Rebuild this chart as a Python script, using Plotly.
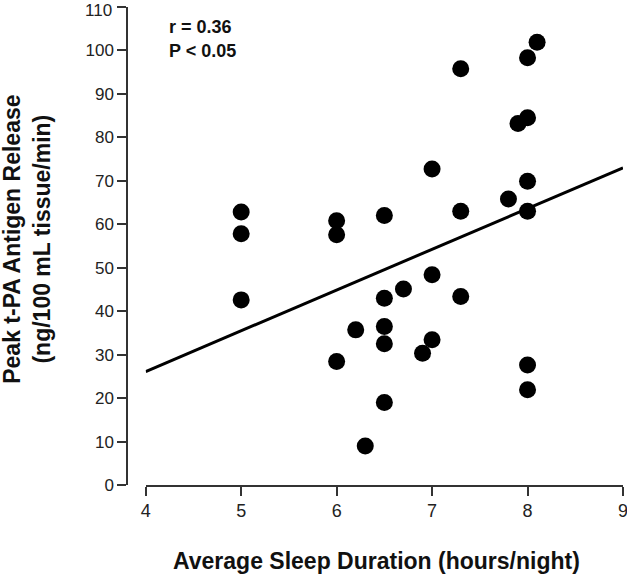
import plotly.graph_objects as go

# Data
sleep_hours = [5.0, 5.0, 5.0, 6.0, 6.0, 6.0, 6.2, 6.3, 6.5, 6.5, 6.5, 6.5, 6.5,
               6.7, 6.9, 7.0, 7.0, 7.0, 7.3, 7.3, 7.3, 7.8, 7.9,
               8.0, 8.0, 8.0, 8.0, 8.0, 8.0, 8.1]
tpa_release = [62.8, 57.8, 42.6, 60.8, 57.6, 28.4, 35.7, 9.0, 62.0, 43.0, 36.5, 32.5, 19.0,
               45.1, 30.3, 72.7, 48.4, 33.4, 95.8, 63.0, 43.4, 65.8, 83.2,
               98.3, 84.5, 69.9, 63.0, 27.6, 21.9, 101.9]
fit_x = [4, 9]
fit_y = [26.1, 73.0]
x_ticks = [4, 5, 6, 7, 8, 9]
y_ticks = [0, 10, 20, 30, 40, 50, 60, 70, 80, 90, 100, 110]
stats_text = ["r = 0.36", "P < 0.05"]

FONT = "Liberation Sans, Arial, sans-serif"
AXC = "#333333"
TXC = "#222222"

fig = go.Figure()
fig.add_trace(go.Scatter(x=fit_x, y=fit_y, mode="lines",
                         line=dict(color="black", width=3), hoverinfo="skip"))
fig.add_trace(go.Scatter(x=sleep_hours, y=tpa_release, mode="markers",
                         marker=dict(color="black", size=17, line=dict(width=0))))

W, H = 627, 578
ml, mr, mt, mb = 127, 4.3, 7.3, 93
pw = W - ml - mr
ph = H - mt - mb
x_start = (145.7 - ml) / pw

# top tick label drawn separately (slightly lowered, as in the reference)
y_ticktext = [str(v) for v in y_ticks[:-1]] + [""]

fig.update_layout(
    width=W, height=H,
    margin=dict(l=ml, r=mr, t=mt, b=mb, pad=0, autoexpand=False),
    paper_bgcolor="white", plot_bgcolor="white",
    showlegend=False,
    font=dict(family=FONT, size=17, color=TXC),
    xaxis=dict(domain=[x_start, 1], range=[4, 9], tickvals=x_ticks,
               showgrid=False, zeroline=False, showline=True, linecolor=AXC, linewidth=1.5,
               ticks="outside", ticklen=9, tickwidth=1.5, tickcolor=AXC,
               ticklabeloverflow="allow",
               tickfont=dict(family=FONT, size=18, color=TXC)),
    yaxis=dict(range=[0, 110], tickvals=y_ticks, ticktext=y_ticktext, anchor="free", position=0,
               showgrid=False, zeroline=False, showline=True, linecolor=AXC, linewidth=1.5,
               ticks="outside", ticklen=9, tickwidth=1.5, tickcolor=AXC,
               ticklabeloverflow="allow",
               tickfont=dict(family=FONT, size=17, color=TXC)),
)

fig.add_annotation(xref="paper", yref="y", x=0, y=y_ticks[-1], xanchor="right", yanchor="middle",
                   xshift=-13, yshift=-3.5, text=str(y_ticks[-1]), showarrow=False,
                   font=dict(family=FONT, size=17, color=TXC))

fig.add_annotation(xref="paper", yref="paper", x=(167 - ml) / pw, y=1 - (27 - mt) / ph,
                   text="<b>" + stats_text[0] + "</b>", showarrow=False, xanchor="left", yanchor="middle",
                   font=dict(family=FONT, size=18, color="#111111"))
fig.add_annotation(xref="paper", yref="paper", x=(167 - ml) / pw, y=1 - (51 - mt) / ph,
                   text="<b>" + stats_text[1] + "</b>", showarrow=False, xanchor="left", yanchor="middle",
                   font=dict(family=FONT, size=18, color="#111111"))

# Axis titles
fig.add_annotation(xref="paper", yref="paper", x=(376 - ml) / pw, y=-(561 - (H - mb)) / ph,
                   text="<b>Average Sleep Duration (hours/night)</b>", showarrow=False,
                   xanchor="center", yanchor="middle",
                   font=dict(family=FONT, size=23, color="#111111"))
fig.add_annotation(xref="paper", yref="paper", x=-(ml - 27) / pw, y=1 - (239 - mt) / ph,
                   text="<b>Peak t-PA Antigen Release<br>(ng/100 mL tissue/min)</b>", showarrow=False,
                   textangle=-90, xanchor="center", yanchor="middle",
                   font=dict(family=FONT, size=23, color="#111111"))

fig.write_html("out.html",
               config={"displayModeBar": False},
               post_script="document.body.style.margin='0';document.body.style.padding='0';"
                           "document.documentElement.style.overflow='hidden';")
